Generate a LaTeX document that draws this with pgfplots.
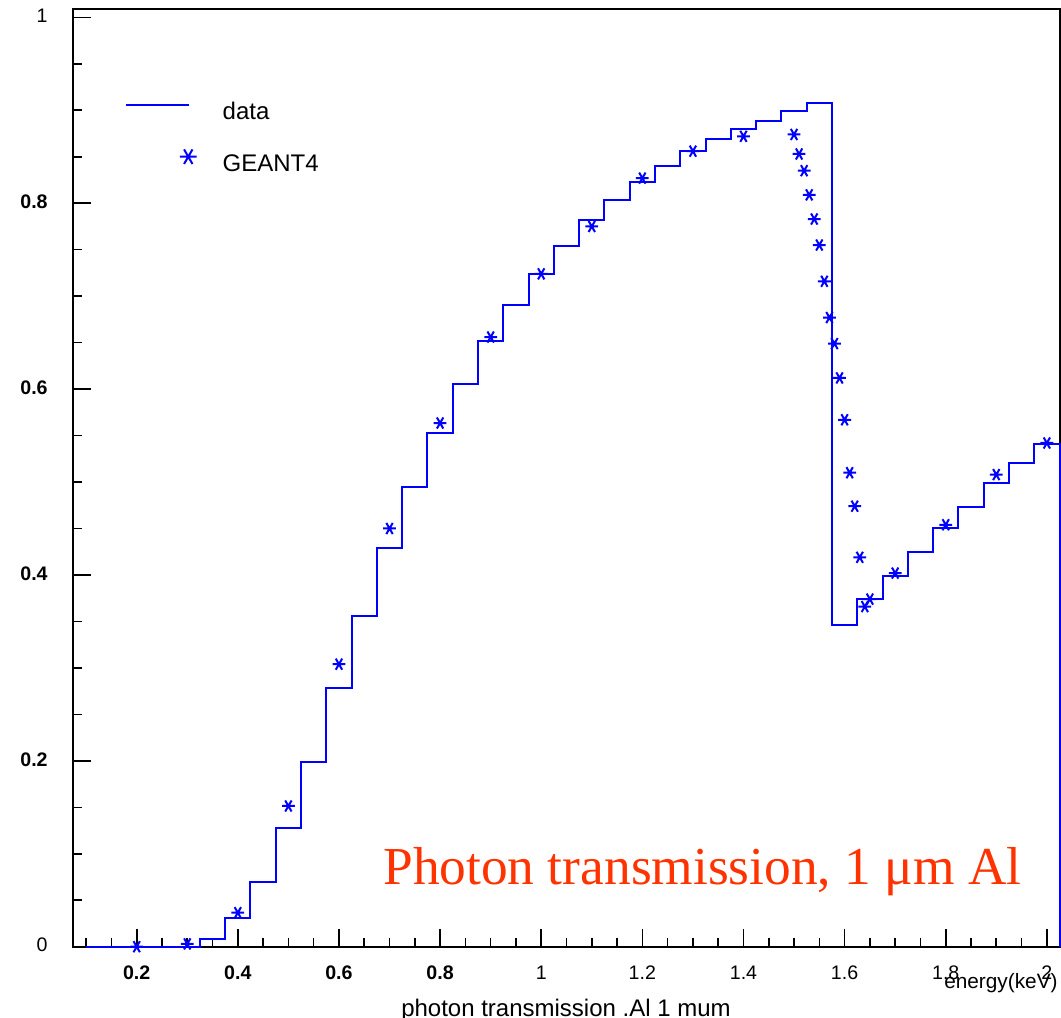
\documentclass[border=0pt]{standalone}
\usepackage{fontspec}
\setmainfont{Liberation Sans}
\newfontfamily\timesf{Liberation Serif}
\usepackage{pgfplots}
\pgfplotsset{compat=1.18}
\definecolor{titlered}{RGB}{255,51,0}
\begin{document}
\begin{tikzpicture}
\begin{axis}[
  scale only axis,
  width=493.5pt, height=468.85pt,
  xmin=0.074, xmax=2.026,
  ymin=0, ymax=1.009,
  clip=false,
  axis line style={line width=1pt},
  tick style={black, line width=0.8pt},
  tick align=inside,
  xtick pos=lower, ytick pos=left,
  major tick length=9pt, minor tick length=4.5pt,
  xtick={0.2,0.4,0.6,0.8,1,1.2,1.4,1.6,1.8,2},
  xticklabels={\textbf{0.2},\textbf{0.4},\textbf{0.6},\textbf{0.8},1,1.2,1.4,1.6,1.8,2},
  minor xtick={0.1,0.15,0.25,0.3,0.35,0.45,0.5,0.55,0.65,0.7,0.75,0.85,0.9,0.95,1.05,1.1,1.15,1.25,1.3,1.35,1.45,1.5,1.55,1.65,1.7,1.75,1.85,1.9,1.95},
  ytick={0,0.2,0.4,0.6,0.8,1},
  yticklabels={0,\textbf{0.2},\textbf{0.4},\textbf{0.6},\textbf{0.8},1},
  minor ytick={0.05,0.1,0.15,0.25,0.3,0.35,0.45,0.5,0.55,0.65,0.7,0.75,0.85,0.9,0.95},
  ticklabel style={font=\fontsize{9.8}{11}\selectfont},
  xticklabel style={anchor=base, inner sep=0pt},
  xticklabel shift=16.2pt,
  yticklabel style={anchor=mid east, inner sep=0pt},
  yticklabel shift=12.5pt,
  legend style={draw=none, fill=none, at={(axis cs:0.1768,0.910)}, anchor=north west,
    inner sep=0pt, column sep=13pt, row sep=12pt,
    nodes={inner sep=0pt, text height=9pt, text depth=3pt},
    font=\fontsize{12}{14}\selectfont},
  legend cell align=left,
]
\coordinate (ll) at (rel axis cs:0,0);
\coordinate (ur) at (rel axis cs:1,1);
\addplot[const plot, blue, line width=1pt,
  legend image code/.code={\draw[blue, line width=0.9pt] (0pt,4.3pt) -- (31.5pt,4.3pt);}]
  coordinates {
  (0.1,0) (0.325,0.008) (0.375,0.031) (0.425,0.070) (0.475,0.128) (0.525,0.199)
  (0.575,0.278) (0.625,0.356) (0.675,0.429) (0.725,0.495) (0.775,0.553) (0.825,0.605)
  (0.875,0.652) (0.925,0.691) (0.975,0.724) (1.025,0.754) (1.075,0.782) (1.125,0.803)
  (1.175,0.823) (1.225,0.840) (1.275,0.856) (1.325,0.869) (1.375,0.880) (1.425,0.889)
  (1.475,0.899) (1.525,0.908) (1.575,0.346) (1.625,0.374) (1.675,0.399) (1.725,0.425)
  (1.775,0.450) (1.825,0.473) (1.875,0.499) (1.925,0.520) (1.975,0.541) (2.025,0.541)
  (2.025,0)
  };
\addlegendentry{data}
\addplot[only marks, blue, mark=asterisk, mark size=3.2pt,
  mark options={rotate=90, line width=1pt},
  legend image code/.code={\draw[blue, line width=0.6pt] plot[mark=asterisk, mark size=4.2pt] coordinates {(31pt,4.3pt)};}]
  coordinates {
  (0.2,0) (0.3,0.003) (0.4,0.0366) (0.5,0.1514) (0.6,0.304) (0.7,0.450) (0.8,0.5635)
  (0.9,0.656) (1.0,0.724) (1.1,0.775) (1.2,0.827) (1.3,0.856) (1.4,0.872) (1.5,0.874)
  (1.51,0.853) (1.52,0.835) (1.53,0.809) (1.54,0.783) (1.55,0.755) (1.56,0.716)
  (1.57,0.677) (1.58,0.649) (1.59,0.612) (1.60,0.567) (1.61,0.510) (1.62,0.474)
  (1.63,0.419) (1.64,0.366) (1.65,0.374) (1.7,0.402) (1.8,0.454) (1.9,0.508) (2.0,0.542)
  };
\addlegendentry{GEANT4}
\node[anchor=base west, inner sep=0pt, text=titlered, font=\timesf\fontsize{26.7}{32}\selectfont]
  at (axis cs:0.687,0.0664) {Photon transmission, 1 μm Al};
\node[anchor=base, inner sep=0pt, font=\fontsize{12}{14}\selectfont]
  at (axis cs:1.049,-0.0746) {photon transmission .Al 1 mum};
\node[anchor=base east, inner sep=0pt, font=\fontsize{10.4}{12}\selectfont]
  at (axis cs:2.022,-0.0455) {energy(keV)};
\end{axis}
\pgfresetboundingbox
\path[use as bounding box] ([xshift=-36.5pt,yshift=-35.65pt]ll) rectangle ([xshift=0.5pt,yshift=4.5pt]ur);
\end{tikzpicture}
\end{document}
